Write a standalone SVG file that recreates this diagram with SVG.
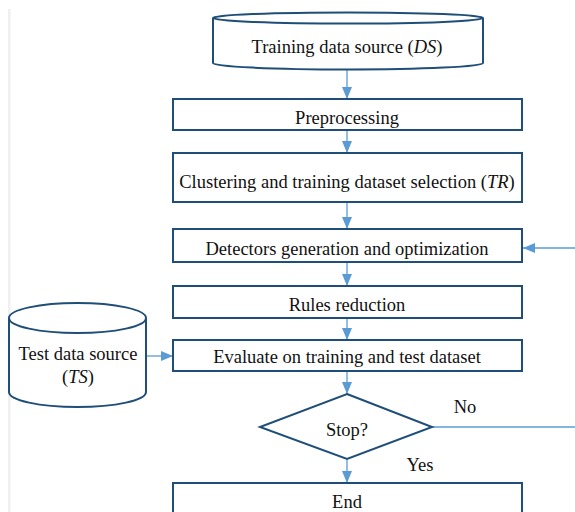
<svg xmlns="http://www.w3.org/2000/svg" width="575" height="512" viewBox="0 0 575 512">
<style>
.box{fill:#fff;stroke:#1f4e79;stroke-width:2}
.lbl{font-family:"Liberation Serif","Times New Roman",serif;font-size:18.5px;fill:#111;text-anchor:middle}
.con{stroke:#5b9bd5;stroke-width:1.3;fill:none}
</style>
<defs>
<marker id="ah" markerWidth="12" markerHeight="10" refX="12" refY="5" orient="auto" markerUnits="userSpaceOnUse">
<path d="M0,0 L12,5 L0,10 Z" fill="#5b9bd5"/>
</marker>
</defs>
<rect x="0" y="0" width="575" height="512" fill="#fff"/>
<rect x="8" y="9" width="2.5" height="503" fill="#f0f0f0"/>

<g id="connectors">
<line class="con" x1="347" y1="70" x2="347" y2="99" marker-end="url(#ah)"/>
<line class="con" x1="347" y1="131" x2="347" y2="153" marker-end="url(#ah)"/>
<line class="con" x1="347" y1="203" x2="347" y2="229" marker-end="url(#ah)"/>
<line class="con" x1="575" y1="248" x2="523" y2="248" marker-end="url(#ah)"/>
<line class="con" x1="347" y1="263" x2="347" y2="286" marker-end="url(#ah)"/>
<line class="con" x1="347" y1="319" x2="347" y2="340" marker-end="url(#ah)"/>
<line class="con" x1="146" y1="356" x2="173" y2="356" marker-end="url(#ah)"/>
<line class="con" x1="347" y1="372" x2="347" y2="394" marker-end="url(#ah)"/>
<line class="con" x1="432" y1="427" x2="575" y2="427"/>
<line class="con" x1="347" y1="460" x2="347" y2="483" marker-end="url(#ah)"/>
<text class="lbl" x="465" y="413">No</text>
<text class="lbl" x="420" y="471">Yes</text>
</g>

<g id="ds">
<path class="box" d="M213,18 L213,63 A135,6.5 0 0 0 483,63 L483,18"/>
<ellipse class="box" cx="348" cy="18" rx="135" ry="5.5"/>
<text class="lbl" x="347" y="53">Training data source (<tspan font-style="italic">DS</tspan>)</text>
</g>

<g id="preprocessing">
<rect class="box" x="173" y="99" width="349" height="31"/>
<text class="lbl" x="347" y="124">Preprocessing</text>
</g>

<g id="clustering">
<rect class="box" x="173" y="153" width="349" height="49"/>
<text class="lbl" x="347" y="188">Clustering and training dataset selection (<tspan font-style="italic">TR</tspan>)</text>
</g>

<g id="detectors">
<rect class="box" x="173" y="229" width="349" height="33"/>
<text class="lbl" x="347" y="255">Detectors generation and optimization</text>
</g>

<g id="rules">
<rect class="box" x="173" y="286" width="349" height="32"/>
<text class="lbl" x="347" y="311">Rules reduction</text>
</g>

<g id="evaluate">
<rect class="box" x="173" y="340" width="349" height="31"/>
<text class="lbl" x="347" y="363">Evaluate on training and test dataset</text>
</g>

<g id="ts">
<path class="box" d="M9,318 L9,392 A68.5,15 0 0 0 146,392 L146,318"/>
<ellipse class="box" cx="77.5" cy="318" rx="68.5" ry="15"/>
<text class="lbl" x="78" y="360">Test data source</text>
<text class="lbl" x="78" y="383">(<tspan font-style="italic">TS</tspan>)</text>
</g>

<g id="stop">
<polygon class="box" points="347,394 432,427 347,459 260,427"/>
<text class="lbl" x="347" y="436">Stop?</text>
</g>

<g id="end">
<rect class="box" x="173" y="483" width="349" height="40"/>
<text class="lbl" x="347" y="508">End</text>
</g>
</svg>
